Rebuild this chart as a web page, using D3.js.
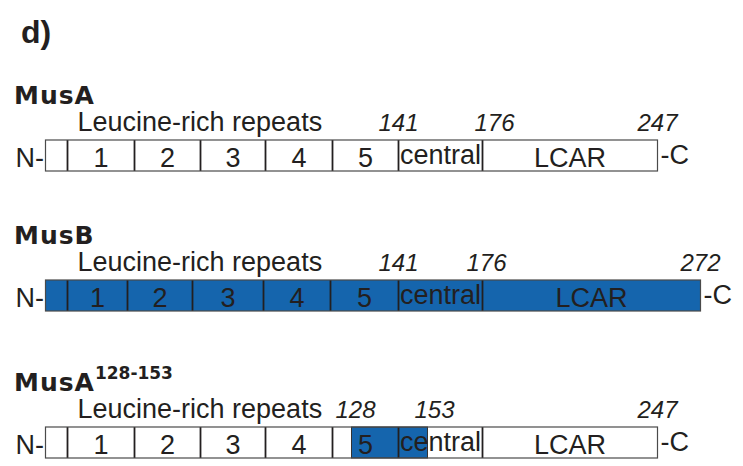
<!DOCTYPE html>
<html>
<head>
<meta charset="utf-8">
<script src="https://cdn.jsdelivr.net/npm/d3@7"></script>
<style>
  body { margin: 0; background: #fff; }
  text { font-family: "Liberation Sans", Arial, sans-serif; fill: #231f20; }
  .panel { font-weight: bold; font-size: 32px; }
  .title { font-family: "DejaVu Sans", sans-serif; font-weight: bold; font-size: 25px; letter-spacing: 1px; }
  .sup { font-family: "DejaVu Sans", sans-serif; font-weight: bold; font-size: 17px; letter-spacing: 0; }
  .lrr { font-size: 27px; }
  .pos { font-size: 24px; font-style: italic; }
  .seg { font-size: 27px; }
</style>
</head>
<body>
<div id="chart"></div>
<script>
// domain names, shared by all three constructs
const domains = ['', '1', '2', '3', '4', '5', 'central', 'LCAR'];

// schematic domain boundaries (drawing units, not residues)
const musABounds = [0, 22, 89, 155, 220, 287, 353, 437, 612];
const musBBounds = [0, 22, 82, 147, 218, 285, 353, 437, 655];
const musA128Bounds = [0, 22, 89, 155, 220, 287, 353, 437, 612];

// residue numbers written above each construct, and the boundary they sit on
const musALabels = [['141', 353, 0], ['176', 437, 12], ['247', 612, 0]];
const musBLabels = [['141', 353, 0], ['176', 437, 4], ['272', 655, 0]];
const musA128Labels = [['128', 306, 4], ['153', 382, 7], ['247', 612, 0]];

// swapped region of the chimera (drawing units)
const musA128Swap = [306, 382];

const rows = [
  {name: 'MusA', sup: '', bounds: musABounds, labels: musALabels, filled: false, swap: null, top: 140},
  {name: 'MusB', sup: '', bounds: musBBounds, labels: musBLabels, filled: true, swap: null, top: 280},
  {name: 'MusA', sup: '128-153', bounds: musA128Bounds, labels: musA128Labels, filled: false, swap: musA128Swap, top: 427}
];

const width = 743, height = 466;
const blue = '#1565ad', ink = '#231f20';
const boxH = 31;

const x = d3.scaleLinear([0, 655], [45.5, 700.5]);

const svg = d3.select('#chart').append('svg')
  .attr('width', width).attr('height', height);

svg.append('text').attr('class', 'panel')
  .attr('x', 21).attr('y', 43).text('d)');

rows.forEach(row => {
  const g = svg.append('g').attr('transform', `translate(0,${row.top})`);
  const b = row.bounds;
  const segs = domains.map((name, i) => ({name, x0: b[i], x1: b[i + 1]}));
  const end = b[b.length - 1];

  // title
  const t = g.append('text').attr('class', 'title').attr('x', 14).attr('y', -36);
  t.append('tspan').text(row.name);
  if (row.sup) t.append('tspan').attr('class', 'sup').attr('dy', -12).attr('dx', 0).text(row.sup);

  g.append('text').attr('class', 'lrr').attr('x', 77.5).attr('y', -9)
    .text('Leucine-rich repeats');

  g.selectAll('text.pos').data(row.labels).join('text')
    .attr('class', 'pos')
    .attr('x', d => x(d[1]) + d[2])
    .attr('y', -9)
    .attr('text-anchor', 'middle')
    .text(d => d[0]);

  // segment fills
  g.selectAll('rect.seg').data(segs).join('rect')
    .attr('class', 'seg')
    .attr('x', d => x(d.x0)).attr('width', d => x(d.x1) - x(d.x0))
    .attr('y', 0).attr('height', boxH)
    .attr('fill', row.filled ? blue : '#fff');

  if (row.swap) {
    g.append('rect')
      .attr('x', x(row.swap[0])).attr('width', x(row.swap[1]) - x(row.swap[0]))
      .attr('y', 0).attr('height', boxH)
      .attr('fill', blue).attr('stroke', '#333').attr('stroke-width', 1);
  }

  // dividers
  g.selectAll('line.div').data(b.slice(1, -1)).join('line')
    .attr('class', 'div')
    .attr('x1', d => x(d)).attr('x2', d => x(d))
    .attr('y1', 0).attr('y2', boxH)
    .attr('stroke', ink).attr('stroke-width', 1.8);

  // outline
  g.append('rect')
    .attr('x', x(0)).attr('width', x(end) - x(0))
    .attr('y', 0).attr('height', boxH)
    .attr('fill', 'none').attr('stroke', '#4a4a4a').attr('stroke-width', 1.2);

  g.selectAll('text.seg').data(segs.filter(d => d.name)).join('text')
    .attr('class', 'seg')
    .attr('x', d => (x(d.x0) + x(d.x1)) / 2)
    .attr('y', d => d.name === 'central' ? 23.5 : 26.5)
    .attr('text-anchor', 'middle')
    .text(d => d.name);

  g.append('text').attr('class', 'seg')
    .attr('x', x(0) - 1.5).attr('y', 27)
    .attr('text-anchor', 'end').text('N-');
  g.append('text').attr('class', 'seg')
    .attr('x', x(end) + 3).attr('y', 24)
    .text('-C');
});
</script>
</body>
</html>
